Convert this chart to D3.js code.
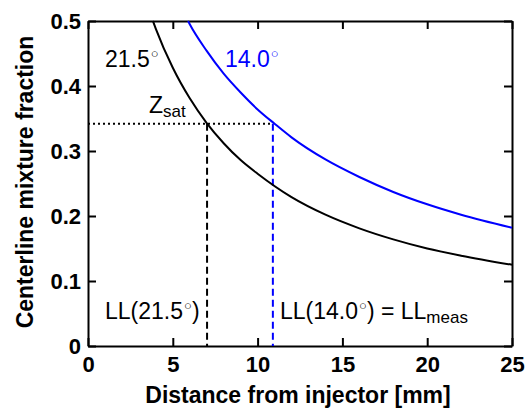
<!DOCTYPE html>
<html>
<head>
<meta charset="utf-8">
<script src="https://cdn.jsdelivr.net/npm/d3@7"></script>
<style>
  body { margin: 0; background: #fff; }
  text { font-family: "Liberation Sans", Arial, sans-serif; }
</style>
</head>
<body>
<div id="container"></div>
<script>
// curve: 21.5 deg (black)
const dist215 = [3.83, 4, 5, 6, 7, 8, 9, 10, 12, 14, 16, 18, 20, 22, 25];
const z215 = [0.5, 0.488, 0.428, 0.381, 0.343, 0.312, 0.286, 0.265, 0.229, 0.202, 0.181, 0.164, 0.150, 0.139, 0.125];
// 14.0 deg (blue)
const dist140 = [5.9, 6, 7, 8, 9, 10, 11, 12, 14, 16, 18, 20, 22, 25];
const z140 = [0.5, 0.495, 0.454, 0.419, 0.390, 0.364, 0.342, 0.321, 0.287, 0.260, 0.237, 0.218, 0.202, 0.182];
const zSat = 0.342;
const ll215 = 7.02;
const ll140 = 10.9;
const xTicks = [0, 5, 10, 15, 20, 25];
const yTicks = [0, 0.1, 0.2, 0.3, 0.4, 0.5];

const W = 527, H = 409;
const margin = { top: 21, right: 15, bottom: 63, left: 88 };
const wid = W - margin.left - margin.right;
const hei = H - margin.top - margin.bottom;

const svg = d3.select("#container").append("svg")
  .attr("width", W).attr("height", H);
const g = svg.append("g")
  .attr("transform", `translate(${margin.left},${margin.top})`);

const x = d3.scaleLinear().domain([0, 25]).range([0, wid]);
const y = d3.scaleLinear().domain([0, 0.5]).range([hei, 0]);

const fmtY = d => d === 0 ? "0" : d3.format(".1f")(d);

// axes, ticks inward on all four sides
const styleAxis = (sel) => {
  sel.select(".domain").attr("stroke", "#000").attr("stroke-width", 2);
  sel.selectAll(".tick line").attr("stroke", "#000").attr("stroke-width", 2);
  sel.selectAll("text").attr("font-size", 22).attr("font-weight", "bold")
    .attr("fill", "#000").style("font-family", "Liberation Sans, Arial, sans-serif");
};
g.append("g").attr("transform", `translate(0,${hei})`)
  .call(d3.axisBottom(x).tickValues(xTicks).tickSizeInner(-8).tickSizeOuter(0).tickPadding(10))
  .call(styleAxis);
g.append("g")
  .call(d3.axisLeft(y).tickValues(yTicks).tickFormat(fmtY).tickSizeInner(-8).tickSizeOuter(0).tickPadding(7))
  .call(styleAxis);
g.append("g")
  .call(d3.axisTop(x).tickValues(xTicks).tickFormat("").tickSizeInner(-8).tickSizeOuter(0))
  .call(styleAxis);
g.append("g").attr("transform", `translate(${wid},0)`)
  .call(d3.axisRight(y).tickValues(yTicks).tickFormat("").tickSizeInner(-8).tickSizeOuter(0))
  .call(styleAxis);

const line = d3.line().x(d => x(d[0])).y(d => y(d[1])).curve(d3.curveMonotoneX);

// Zsat dotted line and dashed LL markers
g.append("line")
  .attr("x1", x(0)).attr("x2", x(ll140)).attr("y1", y(zSat)).attr("y2", y(zSat))
  .attr("stroke", "#000").attr("stroke-width", 2).attr("stroke-dasharray", "2,3");
g.append("line")
  .attr("x1", x(ll215)).attr("x2", x(ll215)).attr("y1", y(zSat)).attr("y2", y(0))
  .attr("stroke", "#000").attr("stroke-width", 2).attr("stroke-dasharray", "7,4");
g.append("line")
  .attr("x1", x(ll140)).attr("x2", x(ll140)).attr("y1", y(zSat)).attr("y2", y(0))
  .attr("stroke", "#0000ff").attr("stroke-width", 2).attr("stroke-dasharray", "7,4");

g.append("path").datum(d3.zip(dist215, z215))
  .attr("fill", "none").attr("stroke", "#000").attr("stroke-width", 2).attr("d", line);
g.append("path").datum(d3.zip(dist140, z140))
  .attr("fill", "none").attr("stroke", "#0000ff").attr("stroke-width", 2).attr("d", line);

// annotations
const label = (px, py, color) => svg.append("text")
  .attr("x", px).attr("y", py).attr("font-size", 23).attr("fill", color);
const deg = (t) => t.append("tspan").attr("font-size", 13).attr("dx", 1).attr("dy", -9).text("\u25CB");

let t = label(105, 67, "#000"); t.append("tspan").text("21.5"); deg(t);
t = label(225, 67, "#0000ff"); t.append("tspan").text("14.0"); deg(t);
t = label(149, 113, "#000"); t.append("tspan").text("Z");
t.append("tspan").attr("font-size", 17).attr("dy", 4).text("sat");
t = label(105, 319, "#000"); t.append("tspan").text("LL(21.5"); deg(t);
t.append("tspan").attr("dy", 9).text(")");
t = label(280, 319, "#000"); t.append("tspan").text("LL(14.0"); deg(t);
t.append("tspan").attr("dy", 9).text(") = LL");
t.append("tspan").attr("font-size", 17).attr("dy", 4).text("meas");

// axis titles
svg.append("text")
  .attr("x", 298).attr("y", 403)
  .attr("text-anchor", "middle").attr("font-size", 23).attr("font-weight", "bold")
  .text("Distance from injector [mm]");
svg.append("text")
  .attr("transform", "translate(33,182) rotate(-90)")
  .attr("text-anchor", "middle").attr("font-size", 23).attr("font-weight", "bold")
  .text("Centerline mixture fraction");
</script>
</body>
</html>
